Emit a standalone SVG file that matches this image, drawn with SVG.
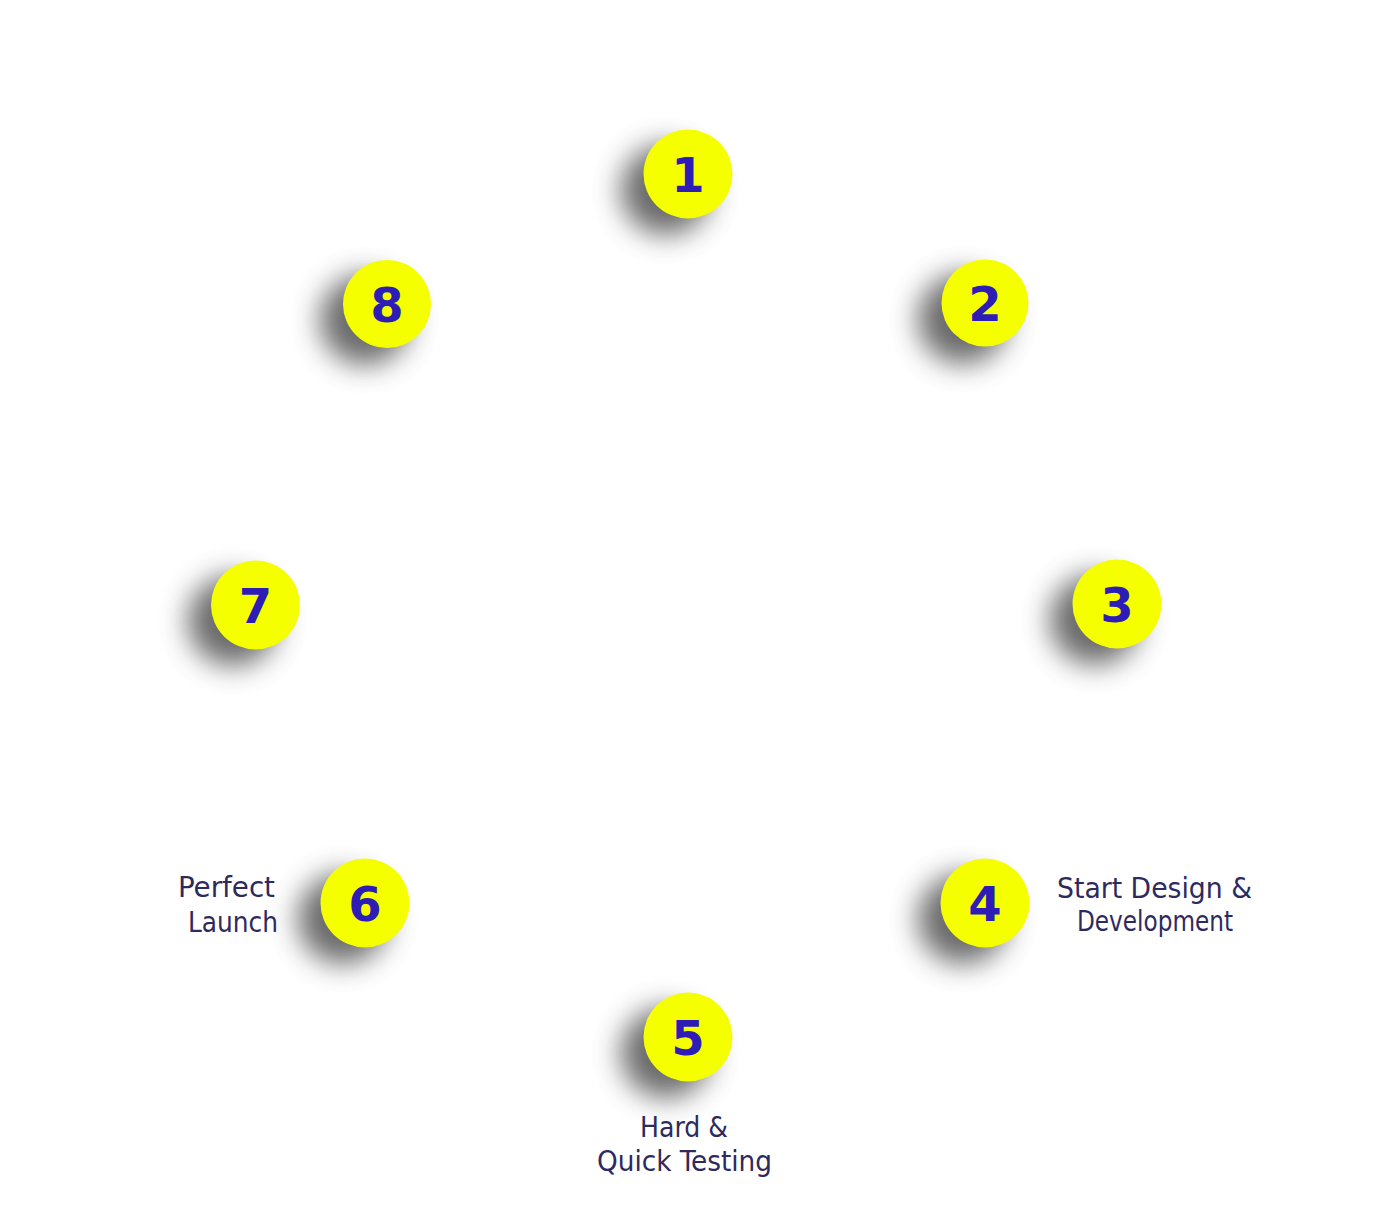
<svg xmlns="http://www.w3.org/2000/svg" width="1374" height="1208" viewBox="0 0 1374 1208">
<defs>
<filter id="sh" x="-100%" y="-100%" width="300%" height="300%">
<feGaussianBlur stdDeviation="14"/>
</filter>
<style>
.shadow{fill:#5a5a5a;filter:url(#sh);opacity:0.9}
.disc{fill:#f5ff00}
.num{font-family:"DejaVu Sans",Verdana,sans-serif;font-weight:bold;font-size:48px;fill:#2d1db6;text-anchor:middle}
.lbl{font-family:"DejaVu Sans Condensed","DejaVu Sans",sans-serif;font-size:28px;fill:#2e2a5e}
</style>
</defs>
<rect width="1374" height="1208" fill="#ffffff"/>
<g id="connectors"></g>
<g id="node1">
<circle class="shadow" cx="666" cy="190" r="45"/>
<circle class="disc" cx="688" cy="174" r="44.5"/>
<text class="num" x="688" y="192">1</text>
</g>
<g id="node2">
<circle class="shadow" cx="963" cy="319" r="45"/>
<circle class="disc" cx="985" cy="303" r="43.5"/>
<text class="num" x="985" y="321">2</text>
</g>
<g id="node3">
<circle class="shadow" cx="1095" cy="620" r="45"/>
<circle class="disc" cx="1117" cy="604" r="44.5"/>
<text class="num" x="1117" y="622">3</text>
</g>
<g id="node4">
<circle class="shadow" cx="963" cy="919" r="45"/>
<circle class="disc" cx="985" cy="903" r="44.5"/>
<text class="num" x="985" y="921">4</text>
<text class="lbl" x="1057" y="898" textLength="195" lengthAdjust="spacingAndGlyphs">Start Design &amp;</text>
<text class="lbl" x="1077" y="931" textLength="156" lengthAdjust="spacingAndGlyphs">Development</text>
</g>
<g id="node5">
<circle class="shadow" cx="666" cy="1053" r="45"/>
<circle class="disc" cx="688" cy="1037" r="44.5"/>
<text class="num" x="688" y="1055">5</text>
<text class="lbl" x="640" y="1137" textLength="88" lengthAdjust="spacingAndGlyphs">Hard &amp;</text>
<text class="lbl" x="597" y="1171" textLength="175" lengthAdjust="spacingAndGlyphs">Quick Testing</text>
</g>
<g id="node6">
<circle class="shadow" cx="343" cy="919" r="45"/>
<circle class="disc" cx="365" cy="903" r="44.5"/>
<text class="num" x="365" y="921">6</text>
<text class="lbl" x="178" y="897" textLength="97" lengthAdjust="spacingAndGlyphs">Perfect</text>
<text class="lbl" x="188" y="932" textLength="90" lengthAdjust="spacingAndGlyphs">Launch</text>
</g>
<g id="node7">
<circle class="shadow" cx="233" cy="621" r="45"/>
<circle class="disc" cx="255.5" cy="605" r="44.5"/>
<text class="num" x="255.5" y="623">7</text>
</g>
<g id="node8">
<circle class="shadow" cx="365" cy="320" r="45"/>
<circle class="disc" cx="387" cy="304" r="44"/>
<text class="num" x="387" y="322">8</text>
</g>
</svg>
